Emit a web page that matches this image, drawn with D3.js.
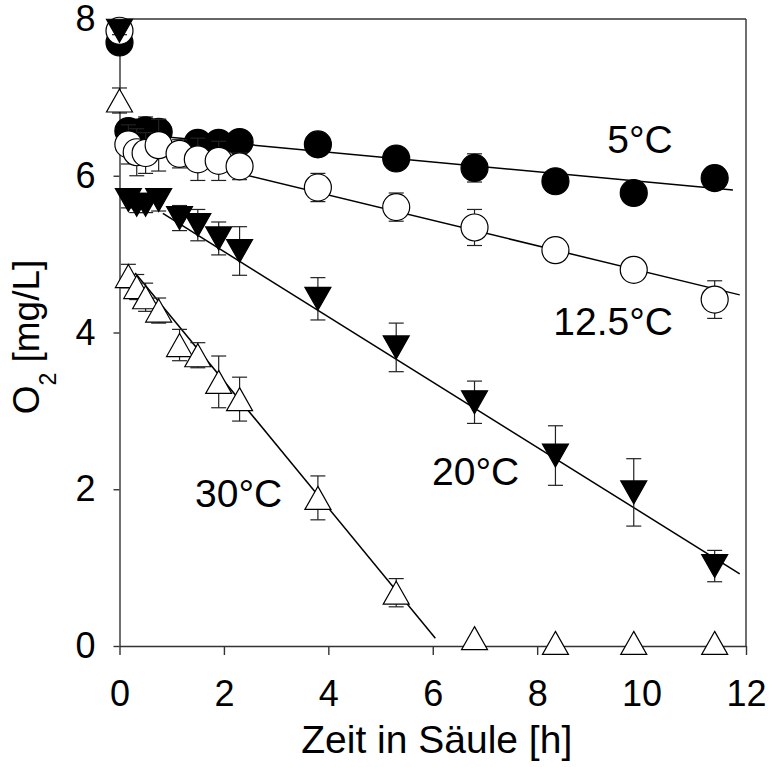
<html>
<head>
    <title>O2 Zehrung</title>
    <meta charset="utf-8" />
    <script src="https://d3js.org/d3.v7.min.js"></script>
    <style>
      body {
    margin: 0;
    padding: 0;
    background: #fff;
}

text {
    font-family: Arial, 'Liberation Sans', sans-serif;
    fill: #000;
}

.axis path, .axis line {
    fill: none;
    stroke: #333;
    stroke-width: 1.4;
}

.axis text {
    font-size: 36px;
}

.fit {
    fill: none;
    stroke: #000;
    stroke-width: 1.5;
}

.err {
    stroke: #222;
    stroke-width: 1.2;
}
    </style>
</head>
<body>
    <script>
// time points [h]
var times = [0, 0.17, 0.33, 0.5, 0.75, 1.15, 1.5, 1.9, 2.3, 3.8, 5.3, 6.8, 8.35, 9.85, 11.4];

// O2 [mg/L], null = no point
var o2_5   = [7.70, 6.57, 6.55, 6.58, 6.56, null, 6.42, 6.42, 6.43, 6.40, 6.22, 6.10, 5.93, 5.78, 5.97];
var sd_5   = [0.05, 0.10, 0.10, 0.17, 0.16, null, 0.12, 0.12, 0.10, 0.10, 0.10, 0.18, 0.08, 0.08, 0.08];
var o2_125 = [7.85, 6.40, 6.30, 6.29, 6.39, 6.28, 6.21, 6.19, 6.12, 5.85, 5.60, 5.34, 5.05, 4.80, 4.42];
var sd_125 = [0.05, 0.25, 0.30, 0.26, 0.33, 0.18, 0.27, 0.25, 0.17, 0.18, 0.18, 0.23, 0.12, 0.12, 0.24];
var o2_20  = [7.85, 5.69, 5.63, 5.63, 5.69, 5.46, 5.37, 5.20, 5.04, 4.43, 3.81, 3.11, 2.43, 1.96, 1.02];
var sd_20  = [0.05, 0.10, 0.10, 0.10, 0.14, 0.16, 0.20, 0.21, 0.31, 0.27, 0.31, 0.27, 0.38, 0.43, 0.20];
var o2_30  = [6.96, 4.72, 4.58, 4.45, 4.28, 3.84, 3.71, 3.37, 3.15, 1.89, 0.68, 0.10, 0.04, 0.04, 0.04];
var sd_30  = [0.16, 0.15, 0.16, 0.18, 0.16, 0.20, 0.16, 0.33, 0.28, 0.28, 0.18, 0, 0, 0, 0];

// linear fits per series: slope, intercept, start, end
var fitSlope     = [-0.0624, -0.1618, -0.4163, -0.8104];
var fitIntercept = [6.551, 6.402, 5.866, 5.003];
var fitStart     = [0.5, 0.63, 0.83, 0.3];
var fitEnd       = [11.75, 11.88, 11.88, 6.05];

var seriesLabels = ["5°C", "12.5°C", "20°C", "30°C"];
var xTicks = [0, 2, 4, 6, 8, 10, 12];
var yTicks = [0, 2, 4, 6, 8];

var W = 771, H = 767;
var plotL = 119.5, plotR = 746, plotT = 19, plotB = 646;

var x = d3.scaleLinear().domain([0, 12]).range([plotL, plotR]);
var y = d3.scaleLinear().domain([0, 8]).range([plotB, plotT]);

var svg = d3.select("body").append("svg")
    .attr("width", W)
    .attr("height", H);

// frame top and right
svg.append("line")
    .attr("x1", plotL).attr("x2", plotR).attr("y1", plotT).attr("y2", plotT)
    .attr("stroke", "#333").attr("stroke-width", 1.4);
svg.append("line")
    .attr("x1", plotR).attr("x2", plotR).attr("y1", plotT).attr("y2", plotB)
    .attr("stroke", "#333").attr("stroke-width", 1.4);

svg.append("g").attr("class", "x axis")
    .attr("transform", "translate(0," + plotB + ")")
    .call(d3.axisBottom(x).tickValues(xTicks).tickSize(9).tickSizeOuter(0).tickPadding(25));

svg.append("g").attr("class", "y axis")
    .attr("transform", "translate(" + plotL + ",0)")
    .call(d3.axisLeft(y).tickValues(yTicks).tickSize(6).tickSizeOuter(0).tickPadding(18));

// axis titles
svg.append("text")
    .attr("x", (plotL + plotR) / 2 + 4)
    .attr("y", 753)
    .attr("text-anchor", "middle")
    .style("font-size", "39px")
    .text("Zeit in Säule [h]");

var yt = svg.append("text")
    .attr("transform", "translate(39,337) rotate(-90)")
    .attr("text-anchor", "middle")
    .style("font-size", "37px");
yt.append("tspan").text("O");
yt.append("tspan").attr("dy", 17).style("font-size", "23px").text("2");
yt.append("tspan").attr("dy", -17).text(" [mg/L]");

// fitted lines
var fitLine = d3.line()
    .x(function (d) { return x(d[0]); })
    .y(function (d) { return y(d[1]); });

fitSlope.forEach(function (s, i) {
    var pts = [fitStart[i], fitEnd[i]].map(function (t) {
        return [t, fitIntercept[i] + s * t];
    });
    svg.append("path").attr("class", "fit").attr("d", fitLine(pts));
});

function triangle(up) {
    var w = 26, h = 23;
    if (up) return "M0," + (-h / 2) + "L" + (w / 2) + "," + (h / 2) + "L" + (-w / 2) + "," + (h / 2) + "Z";
    return "M0," + (h / 2) + "L" + (w / 2) + "," + (-h / 2) + "L" + (-w / 2) + "," + (-h / 2) + "Z";
}

var series = [
    { vals: o2_5,   sd: sd_5,   shape: "circle", fill: "#000" },
    { vals: o2_125, sd: sd_125, shape: "circle", fill: "#fff" },
    { vals: o2_20,  sd: sd_20,  shape: "down",   fill: "#000" },
    { vals: o2_30,  sd: sd_30,  shape: "up",     fill: "#fff" }
];

series.forEach(function (s) {
    var data = times.map(function (t, i) {
        return { t: t, v: s.vals[i], sd: s.sd[i] };
    }).filter(function (d) { return d.v !== null; });

    var g = svg.append("g");

    // error bars
    var eb = g.selectAll(".eb").data(data.filter(function (d) { return d.sd > 0; }))
        .enter().append("g").attr("class", "err");
    eb.append("line")
        .attr("x1", function (d) { return x(d.t); })
        .attr("x2", function (d) { return x(d.t); })
        .attr("y1", function (d) { return y(d.v + d.sd); })
        .attr("y2", function (d) { return y(d.v - d.sd); });
    [1, -1].forEach(function (k) {
        eb.append("line")
            .attr("x1", function (d) { return x(d.t) - 7.5; })
            .attr("x2", function (d) { return x(d.t) + 7.5; })
            .attr("y1", function (d) { return y(d.v + k * d.sd); })
            .attr("y2", function (d) { return y(d.v + k * d.sd); });
    });

    // markers
    if (s.shape === "circle") {
        g.selectAll(".m").data(data).enter().append("circle")
            .attr("cx", function (d) { return x(d.t); })
            .attr("cy", function (d) { return y(d.v); })
            .attr("r", 13.5)
            .attr("fill", s.fill)
            .attr("stroke", "#000")
            .attr("stroke-width", 1.2);
    } else {
        g.selectAll(".m").data(data).enter().append("path")
            .attr("transform", function (d) { return "translate(" + x(d.t) + "," + y(d.v) + ")"; })
            .attr("d", triangle(s.shape === "up"))
            .attr("fill", s.fill)
            .attr("stroke", "#000")
            .attr("stroke-width", 1.2);
    }
});

// series labels
var labelPos = [[640, 153, "middle"], [673, 335, "end"], [432, 485, "start"], [195, 507, "start"]];
seriesLabels.forEach(function (l, i) {
    svg.append("text")
        .attr("x", labelPos[i][0])
        .attr("y", labelPos[i][1])
        .attr("text-anchor", labelPos[i][2])
        .style("font-size", "39px")
        .text(l);
});
    </script>
</body>
</html>
